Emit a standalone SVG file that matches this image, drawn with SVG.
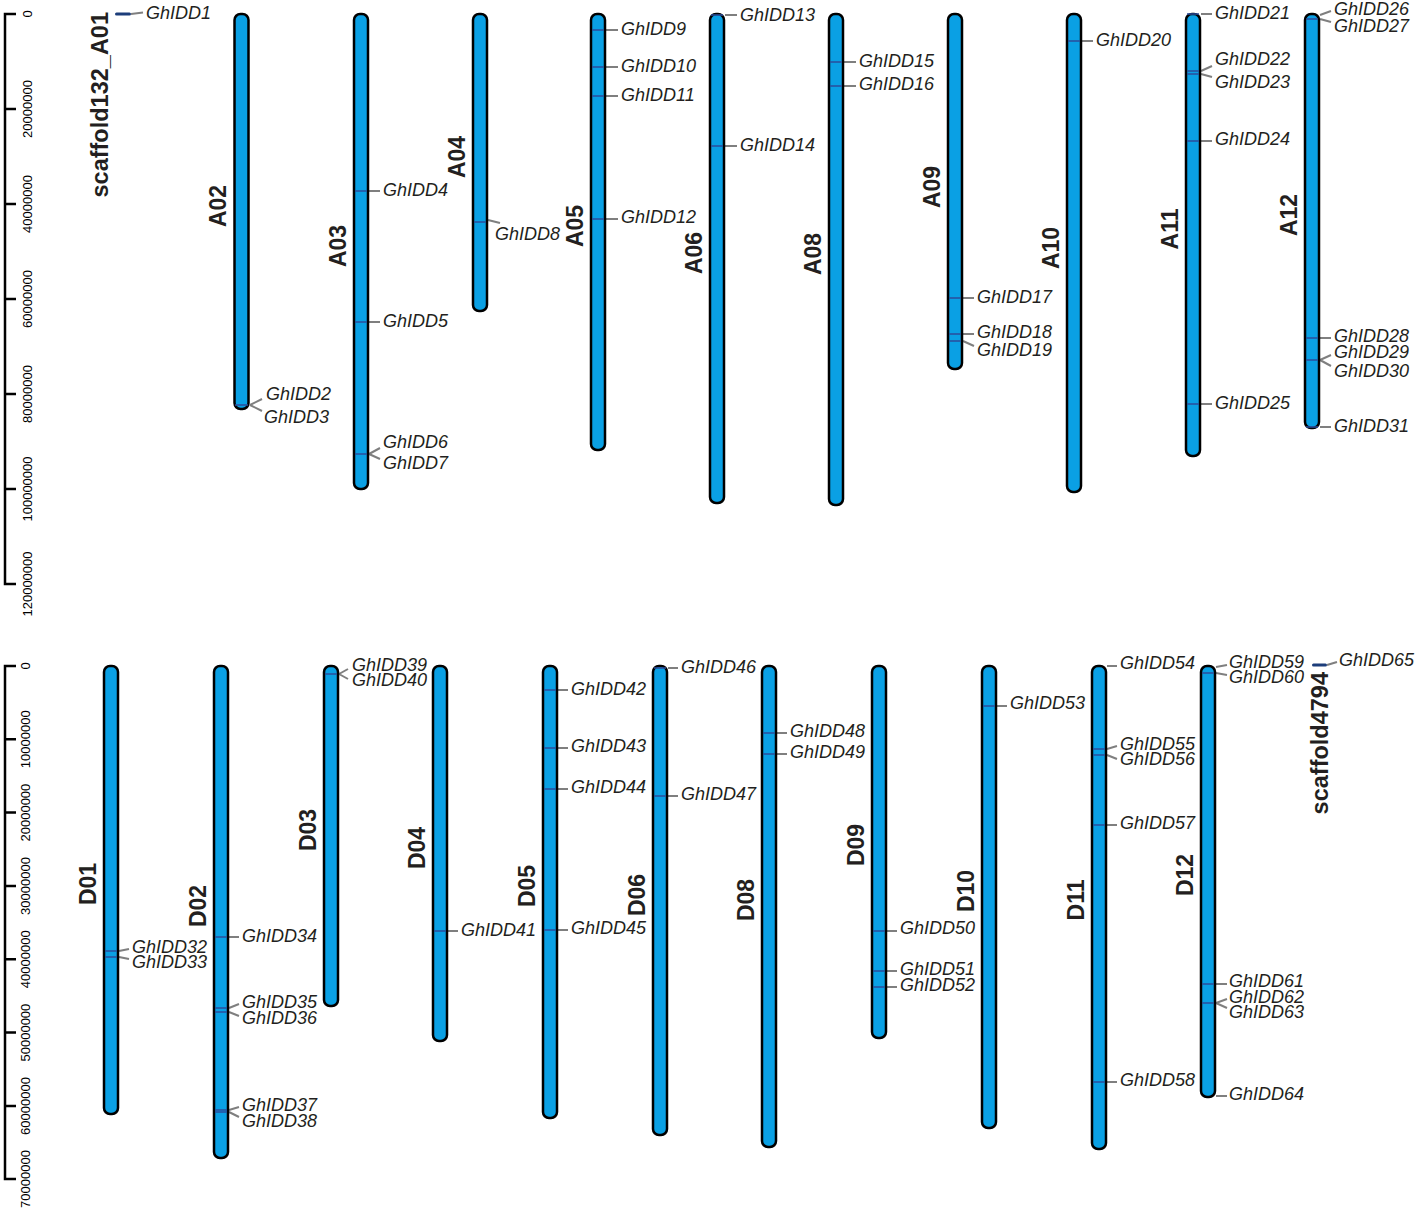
<svg xmlns="http://www.w3.org/2000/svg" width="1418" height="1208" viewBox="0 0 1418 1208">
<style>
.chr{fill:#0aa0e4;stroke:#000;stroke-width:2.5}
.scf{fill:#1c3d7a;stroke:none}
.mk{stroke:#2b4c9b;stroke-width:1.5;fill:none}
.cn{stroke:#7f7f7f;stroke-width:2;fill:none}
.ax{stroke:#000;stroke-width:2.5;fill:none}
.tk{font-family:"Liberation Sans",Arial,sans-serif;font-size:13px;fill:#000;text-anchor:middle}
.cl{font-family:"Liberation Sans",Arial,sans-serif;font-size:23px;font-weight:bold;fill:#231f20;text-anchor:middle}
.sl{font-family:"Liberation Sans",Arial,sans-serif;font-size:23.5px;font-weight:bold;fill:#231f20;text-anchor:end}
.g{font-family:"Liberation Sans",Arial,sans-serif;font-size:18px;font-style:italic;fill:#231f20}
</style>
<rect width="1418" height="1208" fill="#fff"/>
<g id="axis-top">
<path class="ax" d="M16,14H5V584H16M5,109H16M5,204H16M5,299H16M5,394H16M5,489H16"/>
<text class="tk" transform="translate(32,14) rotate(-90)">0</text>
<text class="tk" transform="translate(32,109) rotate(-90)">20000000</text>
<text class="tk" transform="translate(32,204) rotate(-90)">40000000</text>
<text class="tk" transform="translate(32,299) rotate(-90)">60000000</text>
<text class="tk" transform="translate(32,394) rotate(-90)">80000000</text>
<text class="tk" transform="translate(32,489) rotate(-90)">100000000</text>
<text class="tk" transform="translate(32,584) rotate(-90)">120000000</text>
</g>
<g id="axis-bottom">
<path class="ax" d="M16,666H5V1179H16M5,739.3H16M5,812.6H16M5,886H16M5,959.3H16M5,1032.6H16M5,1106H16"/>
<text class="tk" transform="translate(30,666) rotate(-90)">0</text>
<text class="tk" transform="translate(30,739.3) rotate(-90)">10000000</text>
<text class="tk" transform="translate(30,812.6) rotate(-90)">20000000</text>
<text class="tk" transform="translate(30,886) rotate(-90)">30000000</text>
<text class="tk" transform="translate(30,959.3) rotate(-90)">40000000</text>
<text class="tk" transform="translate(30,1032.6) rotate(-90)">50000000</text>
<text class="tk" transform="translate(30,1106) rotate(-90)">60000000</text>
<text class="tk" transform="translate(30,1179) rotate(-90)">70000000</text>
</g>

<g id="connectors">
<path class="cn" d="M131,14L143,12.5"/>
<path class="cn" d="M250,405L262,399M250,405L262,411"/>
<path class="cn" d="M369,191H380M369,322H380M369,454L380,448M369,454L380,459"/>
<path class="cn" d="M488,220L500,223"/>
<path class="cn" d="M606,30H618M606,67H618M606,96H618M606,219H618"/>
<path class="cn" d="M725,15H737M725,146H737"/>
<path class="cn" d="M844,62H856M844,86H856"/>
<path class="cn" d="M963,298H974M963,334H974M963,341L974,346"/>
<path class="cn" d="M1082,41H1093"/>
<path class="cn" d="M1201,14H1212M1201,71L1212,66M1201,74L1212,77M1201,141H1212M1201,404H1212"/>
<path class="cn" d="M1320,15L1331,11M1320,19L1331,22M1320,338H1331M1320,360L1331,355M1320,360L1331,366M1320,427H1331"/>
<path class="cn" d="M119,951L129,949M119,957L129,959"/>
<path class="cn" d="M229,937H239M229,1008L239,1004M229,1012L239,1016M229,1110L239,1107M229,1112L239,1117"/>
<path class="cn" d="M339,674L348,669M339,674L348,679"/>
<path class="cn" d="M448,931H458"/>
<path class="cn" d="M558,690H568M558,748H568M558,789H568M558,930H568"/>
<path class="cn" d="M668,668H678M668,796H678"/>
<path class="cn" d="M777,733H787M777,754H787"/>
<path class="cn" d="M887,931H897M887,971H897M887,987H897"/>
<path class="cn" d="M997,706H1007"/>
<path class="cn" d="M1107,666H1117M1107,749L1117,746M1107,755L1117,759M1107,825H1117M1107,1082H1117"/>
<path class="cn" d="M1216,667L1227,665M1216,673L1227,675M1216,984H1227M1216,1003L1227,999M1216,1003L1227,1008M1216,1096H1227"/>
<path class="cn" d="M1327,665L1337,662"/>
</g>

<g id="scaffold132_A01">
<rect class="scf" x="115" y="12.5" width="16" height="3" rx="1.5"/>
<text class="sl" transform="translate(108,12) rotate(-90)">scaffold132_A01</text>
<text class="g" x="146" y="19">GhIDD1</text>
</g>
<g id="A02">
<rect class="chr" x="234.5" y="14" width="14" height="395" rx="6"/>
<path class="mk" d="M235,405H248"/>
<text class="cl" transform="translate(226,206) rotate(-90)">A02</text>
<text class="g" x="266" y="400">GhIDD2</text>
<text class="g" x="264" y="423">GhIDD3</text>
</g>
<g id="A03">
<rect class="chr" x="354" y="14" width="14" height="475" rx="6"/>
<path class="mk" d="M355,191H367M355,322H367M355,454H367"/>
<text class="cl" transform="translate(345.5,246) rotate(-90)">A03</text>
<text class="g" x="383" y="196">GhIDD4</text>
<text class="g" x="383" y="327">GhIDD5</text>
<text class="g" x="383" y="448">GhIDD6</text>
<text class="g" x="383" y="469">GhIDD7</text>
</g>
<g id="A04">
<rect class="chr" x="473" y="14" width="14" height="297" rx="6"/>
<path class="mk" d="M474,222H486"/>
<text class="cl" transform="translate(464.5,157) rotate(-90)">A04</text>
<text class="g" x="495" y="240">GhIDD8</text>
</g>
<g id="A05">
<rect class="chr" x="591" y="14" width="14" height="436" rx="6"/>
<path class="mk" d="M592,30H604M592,67H604M592,96H604M592,219H604"/>
<text class="cl" transform="translate(582.5,226) rotate(-90)">A05</text>
<text class="g" x="621" y="35">GhIDD9</text>
<text class="g" x="621" y="72">GhIDD10</text>
<text class="g" x="621" y="101">GhIDD11</text>
<text class="g" x="621" y="223">GhIDD12</text>
</g>
<g id="A06">
<rect class="chr" x="710" y="14" width="14" height="489" rx="6"/>
<path class="mk" d="M711,15H723M711,146H723"/>
<text class="cl" transform="translate(701.5,253) rotate(-90)">A06</text>
<text class="g" x="740" y="21">GhIDD13</text>
<text class="g" x="740" y="151">GhIDD14</text>
</g>
<g id="A08">
<rect class="chr" x="829" y="14" width="14" height="491" rx="6"/>
<path class="mk" d="M830,62H842M830,86H842"/>
<text class="cl" transform="translate(820.5,254) rotate(-90)">A08</text>
<text class="g" x="859" y="67">GhIDD15</text>
<text class="g" x="859" y="90">GhIDD16</text>
</g>
<g id="A09">
<rect class="chr" x="948" y="14" width="14" height="355" rx="6"/>
<path class="mk" d="M949,298H961M949,334H961M949,341H961"/>
<text class="cl" transform="translate(939.5,187) rotate(-90)">A09</text>
<text class="g" x="977" y="303">GhIDD17</text>
<text class="g" x="977" y="338">GhIDD18</text>
<text class="g" x="977" y="356">GhIDD19</text>
</g>
<g id="A10">
<rect class="chr" x="1067" y="14" width="14" height="478" rx="6"/>
<path class="mk" d="M1068,41H1080"/>
<text class="cl" transform="translate(1058.5,248) rotate(-90)">A10</text>
<text class="g" x="1096" y="46">GhIDD20</text>
</g>
<g id="A11">
<rect class="chr" x="1186" y="14" width="14" height="442" rx="6"/>
<path class="mk" d="M1187,14H1199M1187,71H1199M1187,74H1199M1187,141H1199M1187,404H1199"/>
<text class="cl" transform="translate(1177.5,229) rotate(-90)">A11</text>
<text class="g" x="1215" y="19">GhIDD21</text>
<text class="g" x="1215" y="65">GhIDD22</text>
<text class="g" x="1215" y="88">GhIDD23</text>
<text class="g" x="1215" y="145">GhIDD24</text>
<text class="g" x="1215" y="409">GhIDD25</text>
</g>
<g id="A12">
<rect class="chr" x="1305" y="14" width="14" height="414" rx="6"/>
<path class="mk" d="M1306,19H1318M1306,338H1318M1306,360H1318M1306,427H1318"/>
<text class="cl" transform="translate(1296.5,215) rotate(-90)">A12</text>
<text class="g" x="1334" y="14.5">GhIDD26</text>
<text class="g" x="1334" y="32">GhIDD27</text>
<text class="g" x="1334" y="342">GhIDD28</text>
<text class="g" x="1334" y="358">GhIDD29</text>
<text class="g" x="1334" y="377">GhIDD30</text>
<text class="g" x="1334" y="432">GhIDD31</text>
</g>

<g id="D01">
<rect class="chr" x="104" y="666" width="14" height="448" rx="6"/>
<path class="mk" d="M105,951H117M105,957H117"/>
<text class="cl" transform="translate(96,884) rotate(-90)">D01</text>
<text class="g" x="132" y="953">GhIDD32</text>
<text class="g" x="132" y="968">GhIDD33</text>
</g>
<g id="D02">
<rect class="chr" x="214" y="666" width="14" height="492" rx="6"/>
<path class="mk" d="M215,937H227M215,1008H227M215,1012H227M215,1110H227M215,1112H227"/>
<text class="cl" transform="translate(206,906) rotate(-90)">D02</text>
<text class="g" x="242" y="942">GhIDD34</text>
<text class="g" x="242" y="1008">GhIDD35</text>
<text class="g" x="242" y="1024">GhIDD36</text>
<text class="g" x="242" y="1111">GhIDD37</text>
<text class="g" x="242" y="1127">GhIDD38</text>
</g>
<g id="D03">
<rect class="chr" x="324" y="666" width="14" height="340" rx="6"/>
<path class="mk" d="M325,674H337"/>
<text class="cl" transform="translate(316,830) rotate(-90)">D03</text>
<text class="g" x="352" y="671">GhIDD39</text>
<text class="g" x="352" y="686">GhIDD40</text>
</g>
<g id="D04">
<rect class="chr" x="433" y="666" width="14" height="375" rx="6"/>
<path class="mk" d="M434,931H446"/>
<text class="cl" transform="translate(425,848) rotate(-90)">D04</text>
<text class="g" x="461" y="936">GhIDD41</text>
</g>
<g id="D05">
<rect class="chr" x="543" y="666" width="14" height="452" rx="6"/>
<path class="mk" d="M544,690H556M544,748H556M544,789H556M544,930H556"/>
<text class="cl" transform="translate(535,886) rotate(-90)">D05</text>
<text class="g" x="571" y="695">GhIDD42</text>
<text class="g" x="571" y="752">GhIDD43</text>
<text class="g" x="571" y="793">GhIDD44</text>
<text class="g" x="571" y="934">GhIDD45</text>
</g>
<g id="D06">
<rect class="chr" x="653" y="666" width="14" height="469" rx="6"/>
<path class="mk" d="M654,668H666M654,796H666"/>
<text class="cl" transform="translate(645,895) rotate(-90)">D06</text>
<text class="g" x="681" y="673">GhIDD46</text>
<text class="g" x="681" y="800">GhIDD47</text>
</g>
<g id="D08">
<rect class="chr" x="762" y="666" width="14" height="481" rx="6"/>
<path class="mk" d="M763,733H775M763,754H775"/>
<text class="cl" transform="translate(754,900) rotate(-90)">D08</text>
<text class="g" x="790" y="737">GhIDD48</text>
<text class="g" x="790" y="758">GhIDD49</text>
</g>
<g id="D09">
<rect class="chr" x="872" y="666" width="14" height="372" rx="6"/>
<path class="mk" d="M873,931H885M873,971H885M873,987H885"/>
<text class="cl" transform="translate(864,845) rotate(-90)">D09</text>
<text class="g" x="900" y="934">GhIDD50</text>
<text class="g" x="900" y="975">GhIDD51</text>
<text class="g" x="900" y="991">GhIDD52</text>
</g>
<g id="D10">
<rect class="chr" x="982" y="666" width="14" height="462" rx="6"/>
<path class="mk" d="M983,706H995"/>
<text class="cl" transform="translate(974,891) rotate(-90)">D10</text>
<text class="g" x="1010" y="709">GhIDD53</text>
</g>
<g id="D11">
<rect class="chr" x="1092" y="666" width="14" height="483" rx="6"/>
<path class="mk" d="M1093,749H1105M1093,755H1105M1093,825H1105M1093,1082H1105"/>
<text class="cl" transform="translate(1084,900) rotate(-90)">D11</text>
<text class="g" x="1120" y="669">GhIDD54</text>
<text class="g" x="1120" y="750">GhIDD55</text>
<text class="g" x="1120" y="765">GhIDD56</text>
<text class="g" x="1120" y="829">GhIDD57</text>
<text class="g" x="1120" y="1086">GhIDD58</text>
</g>
<g id="D12">
<rect class="chr" x="1201" y="666" width="14" height="431" rx="6"/>
<path class="mk" d="M1202,673H1214M1202,984H1214M1202,1003H1214"/>
<text class="cl" transform="translate(1193,875) rotate(-90)">D12</text>
<text class="g" x="1229" y="668">GhIDD59</text>
<text class="g" x="1229" y="683">GhIDD60</text>
<text class="g" x="1229" y="987">GhIDD61</text>
<text class="g" x="1229" y="1003">GhIDD62</text>
<text class="g" x="1229" y="1018">GhIDD63</text>
<text class="g" x="1229" y="1100">GhIDD64</text>
</g>
<g id="scaffold4794">
<rect class="scf" x="1312" y="663.5" width="15" height="3" rx="1.5"/>
<text class="sl" transform="translate(1328,672) rotate(-90)">scaffold4794</text>
<text class="g" x="1339" y="666">GhIDD65</text>
</g>
</svg>
